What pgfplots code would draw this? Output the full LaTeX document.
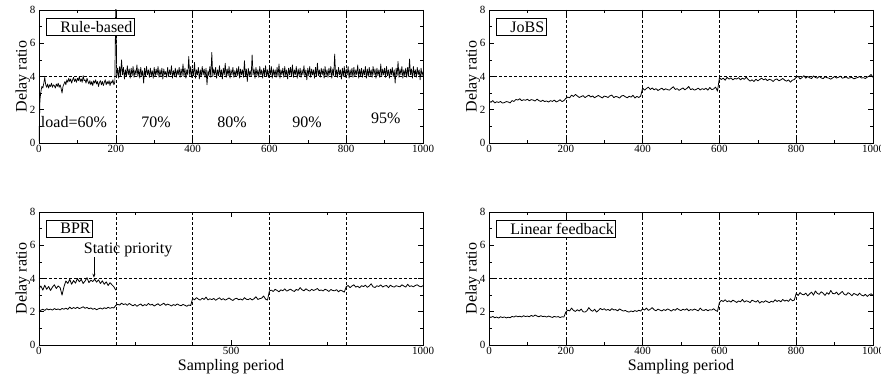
\documentclass[border=0pt]{standalone}
\usepackage{pgfplots}
\pgfplotsset{compat=1.18}
\usepackage{pgfplotstable}
\usepackage{fontspec}
\setmainfont{Liberation Serif}
\usetikzlibrary{arrows.meta}

% Rule-based (dense sampling)
\pgfplotstableread[row sep=\\]{
x y\\
0 0.1\\ 2.5 2.6\\ 5 3.1\\ 7.5 3.4\\ 10 3.3\\ 12.5 3.6\\ 15 3.95\\ 17.5 3.5\\
20 3.35\\ 22.5 3.55\\ 25 3.3\\ 27.5 3.5\\ 30 3.4\\ 32.5 3.6\\ 35 3.35\\ 37.5 3.5\\
40 3.45\\ 42.5 3.3\\ 45 3.55\\ 47.5 3.4\\ 50 3.6\\ 52.5 3.35\\ 55 3.5\\ 57.5 3.3\\
60 3.0\\ 62.5 3.4\\ 65 3.55\\ 67.5 3.7\\ 70 3.5\\ 72.5 3.8\\ 75 3.65\\ 77.5 3.9\\
80 3.7\\ 82.5 3.85\\ 85 3.6\\ 87.5 3.8\\ 90 3.95\\ 92.5 3.7\\ 95 3.85\\ 97.5 3.65\\
100 3.9\\ 102.5 3.75\\ 105 4.0\\ 107.5 3.7\\ 110 3.85\\ 112.5 3.65\\ 115 4.05\\ 117.5 3.75\\
120 3.8\\ 122.5 3.6\\ 125 3.9\\ 127.5 3.7\\ 130 3.55\\ 132.5 3.75\\ 135 3.5\\ 137.5 3.7\\
140 3.45\\ 142.5 3.75\\ 145 3.6\\ 147.5 3.8\\ 150 3.55\\ 152.5 3.7\\ 155 3.4\\ 157.5 3.65\\
160 3.75\\ 162.5 3.5\\ 165 3.7\\ 167.5 3.45\\ 170 3.65\\ 172.5 3.8\\ 175 3.5\\ 177.5 3.7\\
180 3.55\\ 182.5 3.75\\ 185 3.45\\ 187.5 3.7\\ 190 3.6\\ 192.5 3.8\\ 195 3.5\\ 197.5 3.65\\
200 8.6\\ 202.5 4.0\\ 205 4.5\\ 207.5 3.9\\ 210 4.6\\ 212.5 4.05\\ 215 5.0\\ 217.5 4.1\\
220 4.55\\ 222.5 3.85\\ 225 4.4\\ 227.5 4.0\\ 230 4.65\\ 232.5 4.1\\ 235 4.45\\ 237.5 3.9\\
240 4.5\\ 242.5 4.05\\ 245 4.6\\ 247.5 3.95\\ 250 4.4\\ 252.5 4.1\\ 255 4.7\\ 257.5 4.0\\
260 4.45\\ 262.5 3.9\\ 265 4.55\\ 267.5 4.05\\ 270 4.35\\ 272.5 3.6\\ 275 4.5\\ 277.5 4.0\\
280 4.6\\ 282.5 4.1\\ 285 4.4\\ 287.5 3.95\\ 290 4.5\\ 292.5 4.05\\ 295 4.35\\ 297.5 3.9\\
300 4.55\\ 302.5 4.0\\ 305 4.45\\ 307.5 4.1\\ 310 4.6\\ 312.5 3.95\\ 315 4.4\\ 317.5 4.05\\
320 4.5\\ 322.5 3.85\\ 325 4.45\\ 327.5 4.1\\ 330 4.3\\ 332.5 3.95\\ 335 4.55\\ 337.5 4.0\\
340 4.4\\ 342.5 4.1\\ 345 4.65\\ 347.5 3.9\\ 350 4.35\\ 352.5 4.05\\ 355 4.5\\ 357.5 3.95\\
360 4.4\\ 362.5 4.1\\ 365 4.55\\ 367.5 3.95\\ 370 4.45\\ 372.5 4.05\\ 375 4.75\\ 377.5 4.0\\
380 4.5\\ 382.5 3.9\\ 385 4.4\\ 387.5 4.1\\ 390 5.2\\ 392.5 4.0\\ 395 4.6\\ 397.5 3.95\\
400 4.45\\ 402.5 4.05\\ 405 4.85\\ 407.5 3.9\\ 410 4.4\\ 412.5 4.1\\ 415 4.55\\ 417.5 3.85\\
420 4.4\\ 422.5 4.0\\ 425 4.6\\ 427.5 4.1\\ 430 4.45\\ 432.5 3.95\\ 435 4.5\\ 437.5 3.5\\
440 4.35\\ 442.5 4.05\\ 445 4.6\\ 447.5 3.95\\ 450 5.45\\ 452.5 4.0\\ 455 4.45\\ 457.5 4.1\\
460 4.55\\ 462.5 3.9\\ 465 4.4\\ 467.5 4.05\\ 470 4.65\\ 472.5 4.0\\ 475 4.4\\ 477.5 3.85\\
480 4.5\\ 482.5 4.1\\ 485 4.8\\ 487.5 3.95\\ 490 4.45\\ 492.5 4.05\\ 495 4.6\\ 497.5 3.9\\
500 4.4\\ 502.5 4.1\\ 505 4.55\\ 507.5 3.95\\ 510 4.35\\ 512.5 4.0\\ 515 4.5\\ 517.5 4.05\\
520 4.6\\ 522.5 3.9\\ 525 4.45\\ 527.5 4.1\\ 530 4.4\\ 532.5 3.95\\ 535 4.95\\ 537.5 4.0\\
540 4.45\\ 542.5 3.7\\ 545 4.5\\ 547.5 4.05\\ 550 4.35\\ 552.5 4.0\\ 555 5.3\\ 557.5 4.1\\
560 4.45\\ 562.5 3.9\\ 565 4.55\\ 567.5 4.05\\ 570 4.4\\ 572.5 3.95\\ 575 4.6\\ 577.5 4.1\\
580 4.4\\ 582.5 3.9\\ 585 4.5\\ 587.5 4.05\\ 590 4.65\\ 592.5 4.0\\ 595 4.4\\ 597.5 3.95\\
600 4.5\\ 602.5 4.1\\ 605 4.6\\ 607.5 3.9\\ 610 4.45\\ 612.5 4.05\\ 615 4.4\\ 617.5 3.95\\
620 4.55\\ 622.5 4.0\\ 625 4.75\\ 627.5 3.9\\ 630 4.4\\ 632.5 4.1\\ 635 4.5\\ 637.5 3.95\\
640 4.6\\ 642.5 4.05\\ 645 4.4\\ 647.5 3.85\\ 650 4.5\\ 652.5 4.1\\ 655 4.55\\ 657.5 4.0\\
660 4.7\\ 662.5 3.95\\ 665 4.4\\ 667.5 4.1\\ 670 4.6\\ 672.5 3.9\\ 675 4.45\\ 677.5 4.05\\
680 4.5\\ 682.5 3.95\\ 685 4.4\\ 687.5 4.1\\ 690 4.65\\ 692.5 4.0\\ 695 4.4\\ 697.5 3.8\\
700 4.5\\ 702.5 4.05\\ 705 4.6\\ 707.5 3.95\\ 710 4.45\\ 712.5 4.1\\ 715 4.4\\ 717.5 3.9\\
720 4.55\\ 722.5 4.0\\ 725 4.8\\ 727.5 4.05\\ 730 4.4\\ 732.5 3.95\\ 735 4.5\\ 737.5 4.1\\
740 4.45\\ 742.5 3.9\\ 745 4.6\\ 747.5 4.05\\ 750 4.4\\ 752.5 3.95\\ 755 4.5\\ 757.5 4.1\\
760 4.6\\ 762.5 3.9\\ 765 4.45\\ 767.5 4.05\\ 770 5.35\\ 772.5 4.0\\ 775 4.4\\ 777.5 3.95\\
780 4.55\\ 782.5 4.1\\ 785 4.4\\ 787.5 3.85\\ 790 4.5\\ 792.5 4.0\\ 795 4.6\\ 797.5 3.95\\
800 4.45\\ 802.5 4.1\\ 805 4.6\\ 807.5 3.9\\ 810 4.4\\ 812.5 4.05\\ 815 4.5\\ 817.5 3.95\\
820 4.55\\ 822.5 4.0\\ 825 4.4\\ 827.5 4.1\\ 830 4.7\\ 832.5 3.9\\ 835 4.45\\ 837.5 4.05\\
840 4.5\\ 842.5 3.95\\ 845 4.4\\ 847.5 4.1\\ 850 4.6\\ 852.5 3.9\\ 855 4.45\\ 857.5 4.0\\
860 4.55\\ 862.5 4.05\\ 865 4.4\\ 867.5 3.95\\ 870 4.6\\ 872.5 4.1\\ 875 4.45\\ 877.5 3.9\\
880 4.5\\ 882.5 4.05\\ 885 4.4\\ 887.5 3.95\\ 890 4.75\\ 892.5 4.0\\ 895 4.45\\ 897.5 4.1\\
900 4.5\\ 902.5 3.95\\ 905 4.6\\ 907.5 4.05\\ 910 4.4\\ 912.5 3.9\\ 915 4.45\\ 917.5 4.1\\
920 4.55\\ 922.5 4.0\\ 925 4.4\\ 927.5 3.6\\ 930 4.5\\ 932.5 4.05\\ 935 4.9\\ 937.5 3.95\\
940 4.45\\ 942.5 4.1\\ 945 4.6\\ 947.5 3.9\\ 950 4.4\\ 952.5 4.05\\ 955 4.5\\ 957.5 3.95\\
960 4.55\\ 962.5 4.0\\ 965 5.05\\ 967.5 4.1\\ 970 4.45\\ 972.5 3.9\\ 975 4.6\\ 977.5 4.05\\
980 4.4\\ 982.5 3.95\\ 985 4.55\\ 987.5 4.1\\ 990 4.4\\ 992.5 3.8\\ 995 4.5\\ 997.5 4.05\\
1000 4.3\\
}\ruletable

\pgfplotstableread{
x jobs bpr lin
0 2.52 2.02 1.70
5 2.45 2.10 1.66
10 2.55 2.15 1.72
15 2.41 2.08 1.64
20 2.48 2.18 1.68
25 2.44 2.12 1.62
30 2.50 2.16 1.70
35 2.40 2.10 1.65
40 2.43 2.19 1.69
45 2.49 2.13 1.63
50 2.47 2.17 1.67
55 2.41 2.11 1.64
60 2.55 2.20 1.72
65 2.50 2.15 1.68
70 2.62 2.22 1.75
75 2.58 2.14 1.70
80 2.66 2.28 1.73
85 2.55 2.18 1.69
90 2.60 2.25 1.76
95 2.57 2.20 1.71
100 2.63 2.27 1.74
105 2.54 2.19 1.70
110 2.61 2.24 1.78
115 2.58 2.30 1.72
120 2.52 2.21 1.80
125 2.64 2.26 1.74
130 2.55 2.18 1.70
135 2.50 2.23 1.76
140 2.57 2.15 1.71
145 2.49 2.20 1.73
150 2.53 2.12 1.68
155 2.46 2.18 1.74
160 2.55 2.22 1.70
165 2.50 2.16 1.66
170 2.58 2.24 1.72
175 2.47 2.19 1.68
180 2.52 2.27 1.71
185 2.60 2.21 1.65
190 2.49 2.25 1.70
195 2.55 2.23 1.68
200 2.68 2.38 1.98
205 2.76 2.45 2.10
210 2.72 2.40 2.05
215 2.88 2.52 2.22
220 2.80 2.43 2.08
225 2.92 2.48 2.02
230 2.83 2.39 2.12
235 2.74 2.50 2.04
240 2.79 2.42 2.16
245 2.85 2.36 2.00
250 2.73 2.44 1.98
255 2.81 2.33 2.06
260 2.88 2.41 2.25
265 2.77 2.47 2.10
270 2.83 2.35 2.03
275 2.72 2.43 2.15
280 2.80 2.38 1.98
285 2.86 2.50 2.08
290 2.78 2.40 2.20
295 2.71 2.45 2.12
300 2.82 2.34 2.18
305 2.79 2.42 2.09
310 2.74 2.48 2.14
315 2.84 2.37 2.07
320 2.88 2.44 2.19
325 2.73 2.51 2.11
330 2.80 2.39 2.13
335 2.77 2.46 2.05
340 2.70 2.41 2.17
345 2.83 2.35 2.10
350 2.86 2.43 2.04
355 2.78 2.38 2.08
360 2.72 2.47 2.01
365 2.81 2.40 1.98
370 2.76 2.36 2.05
375 2.87 2.44 2.00
380 2.71 2.39 2.07
385 2.80 2.33 2.02
390 2.74 2.41 2.09
395 2.82 2.37 2.04
400 3.30 2.80 2.18
405 3.18 2.72 2.10
410 3.28 2.85 2.22
415 3.36 2.76 2.08
420 3.22 2.70 2.15
425 3.31 2.82 2.25
430 3.20 2.74 2.12
435 3.27 2.88 2.06
440 3.16 2.71 2.16
445 3.23 2.78 2.10
450 3.30 2.73 2.05
455 3.19 2.80 2.13
460 3.26 2.69 2.08
465 3.21 2.77 2.17
470 3.18 2.84 2.11
475 3.29 2.72 2.04
480 3.38 2.79 2.14
485 3.22 2.70 2.09
490 3.27 2.76 2.20
495 3.17 2.83 2.12
500 3.24 2.74 2.07
505 3.31 2.68 2.15
510 3.20 2.78 2.10
515 3.28 2.81 2.18
520 3.40 2.72 2.06
525 3.21 2.77 2.13
530 3.26 2.70 2.09
535 3.18 2.85 2.16
540 3.23 2.75 2.11
545 3.30 2.73 2.05
550 3.19 2.80 2.22
555 3.27 2.71 2.10
560 3.22 2.78 2.08
565 3.29 2.90 2.14
570 3.18 2.74 2.06
575 3.34 2.79 2.12
580 3.21 2.82 2.10
585 3.25 2.95 2.18
590 3.36 2.76 2.08
595 3.12 2.70 2.02
600 3.92 3.25 2.55
605 3.82 3.30 2.68
610 3.90 3.22 2.62
615 3.78 3.35 2.72
620 3.95 3.28 2.60
625 3.84 3.20 2.66
630 3.92 3.32 2.58
635 3.80 3.26 2.70
640 3.88 3.38 2.63
645 3.85 3.24 2.56
650 3.93 3.30 2.65
655 3.80 3.36 2.60
660 3.90 3.27 2.74
665 3.83 3.22 2.58
670 3.96 3.34 2.66
675 3.82 3.29 2.62
680 3.72 3.45 2.55
685 3.80 3.32 2.70
690 3.70 3.26 2.64
695 3.84 3.38 2.58
700 3.74 3.30 2.68
705 3.82 3.24 2.52
710 3.90 3.35 2.62
715 3.80 3.28 2.57
720 3.86 3.33 2.66
725 3.75 3.40 2.60
730 3.83 3.27 2.55
735 3.79 3.31 2.63
740 3.70 3.25 2.58
745 3.82 3.36 2.72
750 3.85 3.30 2.62
755 3.74 3.22 2.68
760 3.80 3.34 2.60
765 3.88 3.28 2.74
770 3.78 3.26 2.64
775 3.72 3.33 2.70
780 3.80 3.20 2.62
785 3.66 3.30 2.78
790 3.78 3.25 2.66
795 3.82 3.18 2.70
800 3.95 3.50 3.10
805 4.02 3.58 2.98
810 3.85 3.45 3.15
815 3.93 3.55 3.05
820 4.05 3.62 3.02
825 3.90 3.48 3.12
830 4.00 3.54 2.95
835 3.92 3.44 3.08
840 3.88 3.57 3.18
845 4.03 3.51 3.00
850 3.94 3.60 3.25
855 3.90 3.47 3.10
860 4.01 3.55 3.05
865 3.92 3.68 3.20
870 3.87 3.50 3.12
875 3.99 3.46 2.98
880 3.93 3.56 3.15
885 3.90 3.52 3.05
890 3.84 3.62 3.28
895 3.92 3.49 3.10
900 4.00 3.55 3.08
905 3.91 3.58 3.18
910 3.95 3.45 3.02
915 4.02 3.60 3.12
920 3.90 3.52 3.22
925 3.93 3.48 3.05
930 3.98 3.57 3.00
935 3.89 3.53 3.15
940 3.92 3.50 3.08
945 3.95 3.62 2.96
950 3.86 3.55 3.10
955 3.90 3.48 3.05
960 3.94 3.65 2.98
965 4.00 3.52 3.12
970 3.91 3.56 3.00
975 3.93 3.50 2.95
980 3.88 3.58 3.05
985 3.96 3.62 2.92
990 4.02 3.54 3.02
995 4.12 3.50 3.08
1000 3.95 3.57 2.98
}\datatable

\pgfplotstableread{
x y
0 3.40
5 3.55
10 3.30
15 3.60
20 3.35
25 3.52
30 3.28
35 3.48
40 3.62
45 3.40
50 3.55
55 3.45
60 3.00
65 3.50
70 3.85
75 3.70
80 3.95
85 3.65
90 3.88
95 3.72
100 4.00
105 3.80
110 3.95
115 3.70
120 3.85
125 4.05
130 3.75
135 3.90
140 3.82
145 3.96
150 3.78
155 3.92
160 3.70
165 3.86
170 3.65
175 3.80
180 3.58
185 3.75
190 3.62
195 3.50
200 3.30
}\statictable

\pgfplotsset{
  panel/.style={
    scale only axis, width=384pt, height=133pt,
    xmin=0, xmax=1000, ymin=0, ymax=8,
    xtick={0,200,...,1000}, minor x tick num=1,
    ytick={0,2,...,8}, minor y tick num=1,
    tick align=inside, major tick length=5pt, minor tick length=3pt,
    axis line style={line width=0.7pt},
    every tick/.style={black, line width=0.6pt},
    /pgf/number format/assume math mode=true,
    /pgf/number format/1000 sep={},
    tick label style={font=\fontsize{11}{11}\selectfont},
    xticklabel style={yshift=1pt},
    ylabel={Delay ratio},
    ylabel style={font=\fontsize{16}{16}\selectfont, at={(axis description cs:-0.042,0.5)}, anchor=center},
    xlabel style={font=\fontsize{16}{16}\selectfont, at={(axis description cs:0.5,-0.165)}, anchor=center},
  },
}
\tikzset{
  dat/.style={black, line width=0.8pt, line join=round},
  refl/.style={black, line width=0.5pt, dash pattern=on 3pt off 2pt},
  lbl/.style={draw, line width=0.9pt, fill=white, anchor=north west, inner xsep=2pt, inner ysep=3pt, font=\fontsize{16}{16}\selectfont},
  ann/.style={font=\fontsize{16}{16}\selectfont},
}

\begin{document}
\begin{tikzpicture}
\path[use as bounding box] (0,0) rectangle (881pt,380pt);

% Top-left: Rule-based
\begin{axis}[panel, at={(39pt,237pt)}, anchor=south west]
\addplot[refl] coordinates {(0,4) (1000,4)};
\addplot[refl] coordinates {(200,0) (200,8)};
\addplot[refl] coordinates {(400,0) (400,8)};
\addplot[refl] coordinates {(600,0) (600,8)};
\addplot[refl] coordinates {(800,0) (800,8)};
\addplot[black, line width=0.7pt, line join=round] table[x=x, y=y] {\ruletable};
\node[lbl] at (axis description cs:0.018,0.94) {\hspace*{12pt}Rule-based};
\node[ann] at (axis cs:91,1.26) {load=60\%};
\node[ann] at (axis cs:305,1.26) {70\%};
\node[ann] at (axis cs:503,1.26) {80\%};
\node[ann] at (axis cs:698,1.26) {90\%};
\node[ann] at (axis cs:903,1.5) {95\%};
\end{axis}

% Top-right: JoBS
\begin{axis}[panel, at={(489pt,237pt)}, anchor=south west]
\addplot[refl] coordinates {(0,4) (1000,4)};
\addplot[refl] coordinates {(200,0) (200,8)};
\addplot[refl] coordinates {(400,0) (400,8)};
\addplot[refl] coordinates {(600,0) (600,8)};
\addplot[refl] coordinates {(800,0) (800,8)};
\addplot[dat] table[x=x, y=jobs] {\datatable};
\node[lbl] at (axis description cs:0.018,0.94) {\hspace*{12pt}JoBS};
\end{axis}

% Bottom-left: BPR
\begin{axis}[panel, at={(39pt,35pt)}, anchor=south west, xtick={0,500,1000}, xlabel={Sampling period}]
\addplot[refl] coordinates {(0,4) (1000,4)};
\addplot[refl] coordinates {(200,0) (200,8)};
\addplot[refl] coordinates {(400,0) (400,8)};
\addplot[refl] coordinates {(600,0) (600,8)};
\addplot[refl] coordinates {(800,0) (800,8)};
\addplot[dat] table[x=x, y=bpr] {\datatable};
\addplot[dat] table[x=x, y=y] {\statictable};
\node[lbl] at (axis description cs:0.018,0.94) {\hspace*{12pt}BPR};
\node[ann] at (axis cs:232,5.7) {Static priority};
\draw[-{Stealth[length=4pt,width=3pt]}, line width=0.6pt] (axis cs:143,5.3) -- (axis cs:143,4.05);
\end{axis}

% Bottom-right: Linear feedback
\begin{axis}[panel, at={(489pt,35pt)}, anchor=south west, xlabel={Sampling period}]
\addplot[refl] coordinates {(0,4) (1000,4)};
\addplot[refl] coordinates {(200,0) (200,8)};
\addplot[refl] coordinates {(400,0) (400,8)};
\addplot[refl] coordinates {(600,0) (600,8)};
\addplot[refl] coordinates {(800,0) (800,8)};
\addplot[dat] table[x=x, y=lin] {\datatable};
\node[lbl] at (axis description cs:0.018,0.94) {\hspace*{12pt}Linear feedback};
\end{axis}
\end{tikzpicture}
\end{document}
